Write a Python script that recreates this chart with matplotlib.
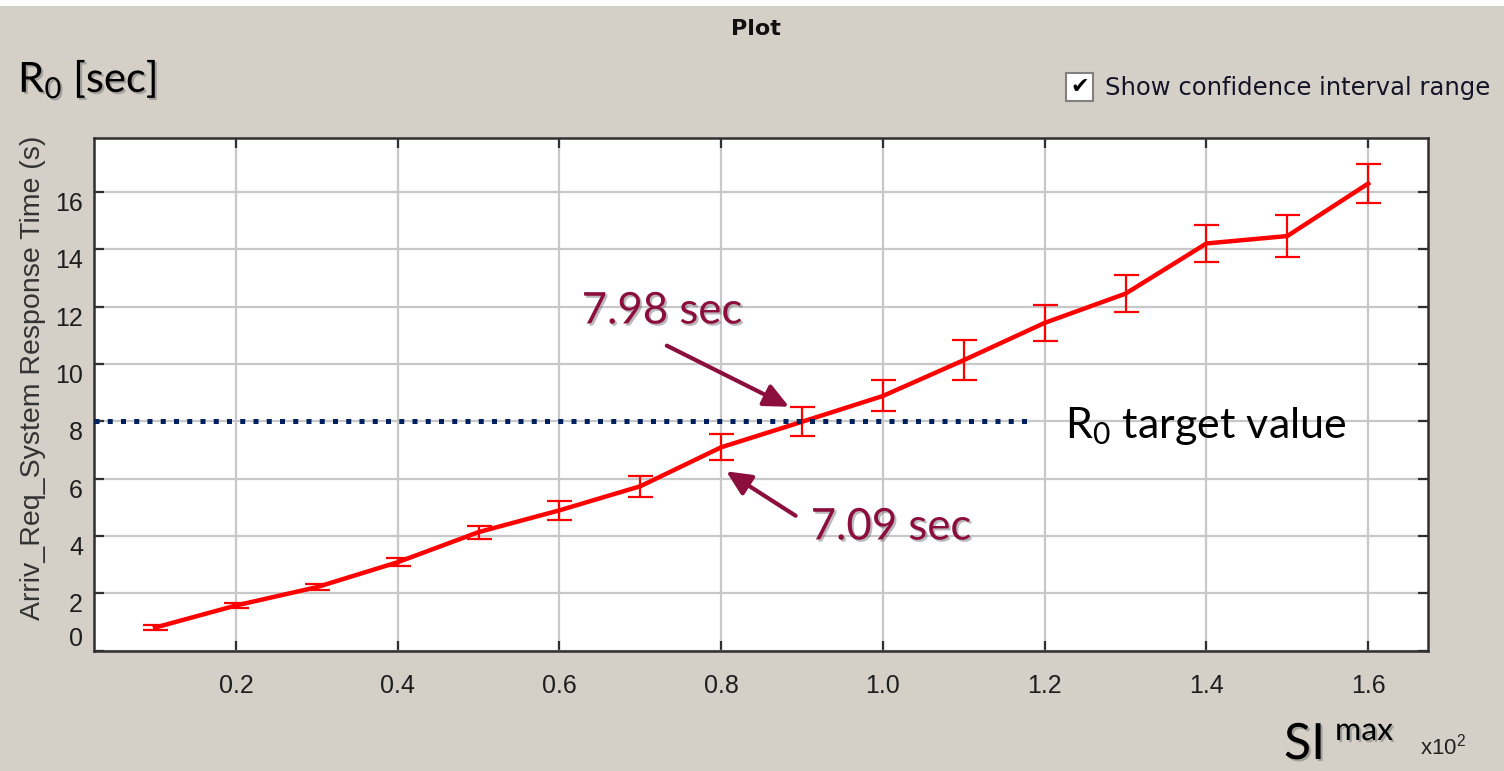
import matplotlib
matplotlib.use("Agg")
import matplotlib.pyplot as plt
import matplotlib.transforms as mtransforms
import matplotlib.patheffects as pe
from matplotlib.patches import Rectangle

# ---- data -------------------------------------------------------------
si_max = [0.1, 0.2, 0.3, 0.4, 0.5, 0.6, 0.7, 0.8,
          0.9, 1.0, 1.1, 1.2, 1.3, 1.4, 1.5, 1.6]
resp_time = [0.80, 1.57, 2.21, 3.08, 4.13, 4.89, 5.73, 7.09,
             7.98, 8.88, 10.13, 11.43, 12.45, 14.20, 14.46, 16.29]
ci_half = [0.08, 0.10, 0.10, 0.14, 0.23, 0.33, 0.37, 0.45,
           0.51, 0.54, 0.70, 0.62, 0.65, 0.65, 0.72, 0.69]
r0_target = 8.0
x_ticks = [0.2, 0.4, 0.6, 0.8, 1.0, 1.2, 1.4, 1.6]
x_tick_labels = ["0.2", "0.4", "0.6", "0.8", "1.0", "1.2", "1.4", "1.6"]
y_ticks = [0, 2, 4, 6, 8, 10, 12, 14, 16]
y_tick_labels = ["0", "2", "4", "6", "8", "10", "12", "14", "16"]

# ---- style ------------------------------------------------------------
W, H = 1504, 771
BG = "#D4D0C8"
NOTE = "#8C0E3C"
TICK_FONT = "Liberation Sans"
NOTE_FONT = "Lato"
plt.rcParams["mathtext.fontset"] = "custom"
plt.rcParams["mathtext.rm"] = NOTE_FONT

fig = plt.figure(figsize=(W / 100, H / 100), dpi=100, facecolor=BG)
fig.patches.append(Rectangle((0, 1 - 6 / H), 1, 6 / H, transform=fig.transFigure,
                             facecolor="white", edgecolor="none"))


def px(x, y):
    """pixel position (from top-left) -> figure fraction"""
    return x / W, 1 - y / H


ax = fig.add_axes([94 / W, 1 - 650.5 / H, (1428 - 94) / W, (650.5 - 138) / H])
ax.set_facecolor("white")
ax.set_xlim(0.0245, 1.674)
ax.set_ylim(0, 17.88)
ax.set_xticks(x_ticks)
ax.set_xticklabels(x_tick_labels)
ax.set_yticks(y_ticks)
ax.set_yticklabels(y_tick_labels)
ax.grid(True, color="#C8C8C8", lw=1.6)
ax.set_axisbelow(True)
for s in ax.spines.values():
    s.set_color("#303030")
    s.set_linewidth(1.8)
ax.tick_params(direction="in", length=7, width=1.6, color="#303030",
               top=True, right=True, labelsize=18, labelcolor="#1e1e1e")
ax.tick_params(axis="x", pad=17)
ax.tick_params(axis="y", pad=8)
for lab in ax.get_xticklabels() + ax.get_yticklabels():
    lab.set_fontfamily(TICK_FONT)
# value labels hang just below their tick; the zero sits on the frame
ylabs = ax.get_yticklabels()
for lab in ylabs:
    lab.set_verticalalignment("top")
ylabs[0].set_verticalalignment("bottom")

fig.text(*px(33, 378), "Arriv_Req_System Response Time (s)", fontfamily=TICK_FONT,
         fontsize=20.5, color="#333333", rotation=90, ha="center", va="center")

# response-time curve with confidence interval
ax.errorbar(si_max, resp_time, yerr=ci_half, color="#FF0000", lw=3.2,
            elinewidth=1.6, capsize=9, capthick=1.6, zorder=4)

# target line
ax.axhline(r0_target, xmin=0, xmax=0.704, color="#002060", lw=3.6,
           linestyle=(0, (1.0, 1.65)), dash_capstyle="butt", zorder=5)

shadow = [pe.withSimplePatchShadow(offset=(1.5, -1.5), shadow_rgbFace="#666666", alpha=0.45)]

# callouts
i_hi = si_max.index(0.9)
i_lo = si_max.index(0.8)
arrow_kw = dict(arrowstyle="-|>,head_length=0.75,head_width=0.35",
                color=NOTE, lw=3, mutation_scale=20, shrinkA=0, shrinkB=0)
ax.annotate("", xy=(si_max[i_hi], resp_time[i_hi]),
            xycoords=ax.transData + mtransforms.ScaledTranslation(-13 / 100, 15 / 100, fig.dpi_scale_trans),
            xytext=(-88, 44), textcoords="offset points", arrowprops=arrow_kw, zorder=6)
ax.annotate("", xy=(si_max[i_lo], resp_time[i_lo]),
            xycoords=ax.transData + mtransforms.ScaledTranslation(5 / 100, -24 / 100, fig.dpi_scale_trans),
            xytext=(50, -32), textcoords="offset points", arrowprops=arrow_kw, zorder=6)

fig.text(*px(662, 311), f"{resp_time[i_hi]:.2f} sec", fontfamily=NOTE_FONT, fontsize=31.5,
         color=NOTE, ha="center", va="center", path_effects=shadow)
fig.text(*px(891, 527), f"{resp_time[i_lo]:.2f} sec", fontfamily=NOTE_FONT, fontsize=31.5,
         color=NOTE, ha="center", va="center", path_effects=shadow)

fig.text(*px(1065, 438), r"R$\mathregular{_0}$ target value", fontfamily=NOTE_FONT,
         fontsize=31, color="black", ha="left", va="baseline")

# corner labels
fig.text(*px(18, 92), r"R$\mathregular{_0}$ [sec]", fontfamily=NOTE_FONT, fontsize=30,
         color="black", ha="left", va="baseline", path_effects=shadow)
fig.text(*px(1284, 759), "SI", fontfamily=NOTE_FONT, fontsize=36,
         color="black", ha="left", va="baseline", path_effects=shadow)
fig.text(*px(1335, 740), "max", fontfamily=NOTE_FONT, fontsize=23,
         color="black", ha="left", va="baseline", path_effects=shadow)
fig.text(*px(1420, 755), r"x10$^{\mathregular{2}}$", fontfamily=TICK_FONT, fontsize=16,
         color="#222222", ha="left", va="baseline")

# window title
fig.text(*px(756, 29), "Plot", fontfamily="DejaVu Sans", fontweight="bold",
         fontsize=16, color="#101010", ha="center", va="center")

# checkbox
fig.patches.append(Rectangle(px(1066, 101), 27 / W, 28 / H, transform=fig.transFigure,
                             facecolor="white", edgecolor="#808080", lw=1.5))
fig.text(*px(1079.5, 87), "\u2714", fontfamily="DejaVu Sans", fontsize=16,
         color="black", ha="center", va="center")
fig.text(*px(1105, 88), "Show confidence interval range", fontfamily="DejaVu Sans",
         fontsize=17.5, color="#141428", ha="left", va="center")

fig.savefig("out.png", dpi=100, facecolor=BG)
